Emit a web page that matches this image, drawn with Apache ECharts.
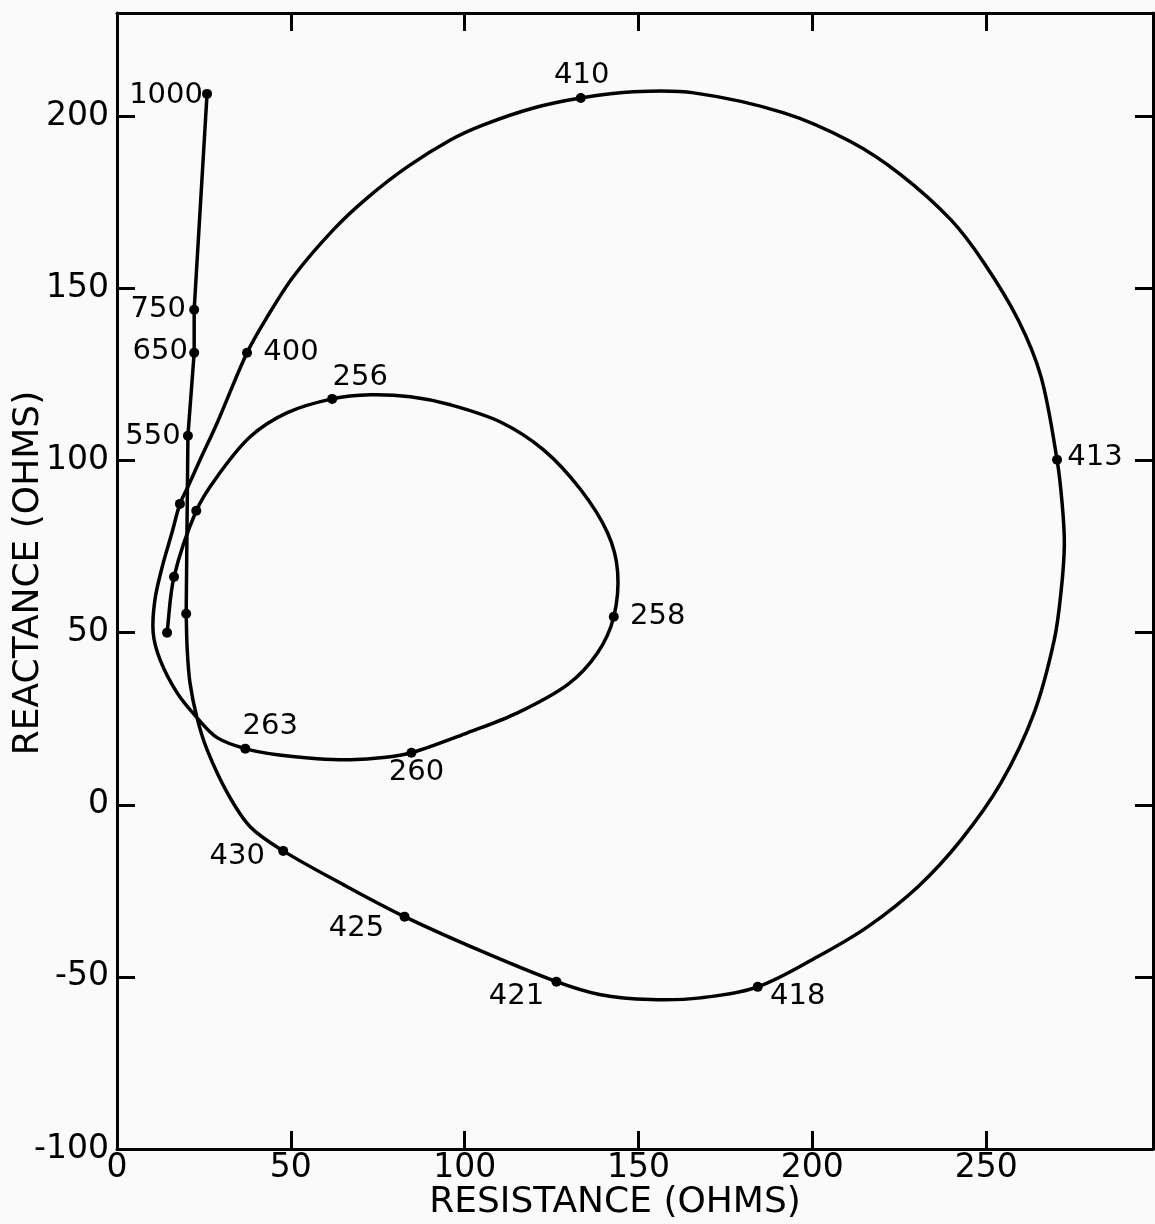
<!DOCTYPE html>
<html>
<head>
<meta charset="utf-8">
<script src="https://cdn.jsdelivr.net/npm/echarts@6/dist/echarts.min.js"></script>
<style>
html,body{margin:0;padding:0;background:#fafafa;}
#chart{width:1155px;height:1224px;}
</style>
</head>
<body>
<div id="chart"></div>
<script>
// Impedance locus (resistance, reactance in ohms), in frequency order
const curveX = [14.4, 16.4, 22.8, 28.8, 38.3, 49.0, 61.9, 72.9, 84.4, 95.9, 110.3, 122.7, 133.4, 141.1, 144.0, 142.9,
  138.2, 129.6, 115.2, 100.8, 84.7, 76.6, 67.1, 57.6, 46.1, 36.9, 28.8, 23.0, 17.3, 12.4, 10.4, 10.9, 13.0, 15.8, 18.1,
  20.4, 23.9, 28.8, 37.4, 43.2, 50.7, 62.2, 72.0, 83.5, 95.9, 105.4, 119.8, 133.4, 148.6, 165.9, 191.8, 211.1,
  225.5, 239.9, 249.4, 259.2, 265.8, 270.4, 271.9, 272.5, 271.6, 269.6, 263.8, 254.3, 242.8, 230.4, 216.0, 201.6, 184.3,
  167.9, 153.5, 139.1, 126.4, 104.5, 82.7, 65.1, 47.8, 38.3, 31.7, 25.9, 23.0, 21.0, 20.2, 19.9];
const curveY = [50.0, 66.2, 85.4, 95.3, 106.9, 113.9, 117.9, 119.1, 118.5, 116.2, 111.2, 103.1, 91.5, 79.0, 67.7, 54.6,
  44.1, 34.9, 26.7, 20.9, 15.1, 13.7, 13.1, 13.4, 14.5, 16.3, 19.5, 25.3, 32.5, 42.1, 50.0, 59.5, 69.1, 79.0, 87.4,
  92.4, 100.2, 110.9, 131.3, 141.7, 153.4, 167.0, 176.3, 185.3, 193.1, 197.5, 202.4, 205.3, 207.1, 206.8, 201.0, 192.6,
  183.0, 169.9, 157.4, 140.9, 124.3, 100.2, 87.1, 75.5, 62.4, 47.9, 26.7, 6.4, -10.2, -23.8, -35.4, -44.1, -52.9,
  -56.1, -56.6, -55.2, -51.4, -42.4, -32.5, -23.2, -13.4, -6.4, 3.5, 16.0, 25.3, 35.4, 45.0, 55.5];
// high-frequency straight segment
const riserX = [19.9, 20.4, 22.2, 22.2, 25.9];
const riserY = [55.5, 107.2, 131.3, 143.8, 206.5];
// measured points (frequency label, resistance, reactance)
const pointFreq = ['', '', '', '256', '258', '260', '263', '', '400', '410', '413', '418', '421', '425', '430', '', '550', '650', '750', '1000'];
const pointX = [14.4, 16.4, 22.8, 61.9, 142.9, 84.7, 36.9, 18.1, 37.4, 133.4, 270.4, 184.3, 126.4, 82.7, 47.8, 19.9, 20.4, 22.2, 22.2, 25.9];
const pointY = [50.0, 66.2, 85.4, 117.9, 54.6, 15.1, 16.3, 87.4, 131.3, 205.3, 100.2, -52.9, -51.4, -32.5, -13.4, 55.5, 107.2, 131.3, 143.8, 206.5];
const xTickLabels = [0, 50, 100, 150, 200, 250];
const yTickLabels = [-100, -50, 0, 50, 100, 150, 200];

// label placement (pixels, label centre relative to the point)
const labelOffset = {
  '256': [28, -21], '258': [44, 0], '260': [5, 20], '263': [25, -22], '400': [44, 0], '410': [1, -23],
  '413': [38, -2], '418': [40, 10], '421': [-40, 15], '425': [-48, 12], '430': [-46, 6],
  '550': [-35, 1], '650': [-34, -1], '750': [-36, 0], '1000': [-41, 2]
};

const FONT = 'DejaVu Sans';
const zip = (a, b) => a.map((v, i) => [v, b[i]]);

// smooth path through pixel points (tangent = direction prev->next, handle = 1/3 segment)
function smoothPath(p) {
  const unit = (a, b) => { const dx = b[0] - a[0], dy = b[1] - a[1]; const l = Math.hypot(dx, dy) || 1; return [dx / l, dy / l]; };
  let d = 'M' + p[0][0] + ',' + p[0][1];
  for (let i = 0; i < p.length - 1; i++) {
    const p0 = p[i - 1] || p[i], p1 = p[i], p2 = p[i + 1], p3 = p[i + 2] || p[i + 1];
    const len = Math.hypot(p2[0] - p1[0], p2[1] - p1[1]) / 3;
    const t1 = unit(p0, p2), t2 = unit(p1, p3);
    const c1 = [p1[0] + t1[0] * len, p1[1] + t1[1] * len];
    const c2 = [p2[0] - t2[0] * len, p2[1] - t2[1] * len];
    d += ' C' + c1[0] + ',' + c1[1] + ' ' + c2[0] + ',' + c2[1] + ' ' + p2[0] + ',' + p2[1];
  }
  return d;
}

const chart = echarts.init(document.getElementById('chart'), null, {renderer: 'canvas'});

const axisCommon = {
  type: 'value',
  axisLine: {show: true, onZero: false, lineStyle: {color: '#000', width: 3}},
  axisTick: {show: true, inside: true, length: 18, lineStyle: {color: '#000', width: 3}},
  splitLine: {show: false},
  interval: 50
};

chart.setOption({
  animation: false,
  backgroundColor: '#fafafa',
  grid: {left: 117, right: 2, top: 13, bottom: 75, containLabel: false, outerBoundsMode: 'none'},
  xAxis: [
    Object.assign({}, axisCommon, {
      position: 'bottom', min: 0, max: 298,
      name: 'RESISTANCE (OHMS)', nameLocation: 'middle', nameGap: 36, nameMoveOverlap: false,
      nameTextStyle: {fontFamily: FONT, fontSize: 36, color: '#000', padding: [0, 40, 0, 0]},
      axisLabel: {
        fontFamily: FONT, fontSize: 33, color: '#000', margin: 3, showMaxLabel: false,
        formatter: v => xTickLabels.indexOf(v) >= 0 ? String(v) : ''
      }
    }),
    Object.assign({}, axisCommon, {
      position: 'top', min: 0, max: 298, axisLabel: {show: false}
    })
  ],
  yAxis: [
    Object.assign({}, axisCommon, {
      position: 'left', min: -100, max: 230,
      name: 'REACTANCE (OHMS)', nameLocation: 'middle', nameGap: 70, nameMoveOverlap: false,
      nameTextStyle: {fontFamily: FONT, fontSize: 36, color: '#000', padding: [0, 0, 0, 16]},
      axisLabel: {
        fontFamily: FONT, fontSize: 33, color: '#000', margin: 8, showMaxLabel: false,
        formatter: v => yTickLabels.indexOf(v) >= 0 ? String(v) : ''
      }
    }),
    Object.assign({}, axisCommon, {
      position: 'right', min: -100, max: 230, axisLabel: {show: false}
    })
  ],
  series: [
    {
      type: 'custom', coordinateSystem: 'cartesian2d', xAxisIndex: 0, yAxisIndex: 0,
      data: zip(curveX, curveY), z: 2,
      renderItem: function (params, api) {
        if (params.dataIndex !== 0) return null;
        const pts = curveX.map((x, i) => api.coord([x, curveY[i]]));
        return {
          type: 'path',
          shape: {pathData: smoothPath(pts)},
          style: {stroke: '#000', lineWidth: 3.5, fill: null, lineJoin: 'round', lineCap: 'round'}
        };
      }
    },
    {
      type: 'line', xAxisIndex: 0, yAxisIndex: 0,
      data: zip(riserX, riserY), smooth: false, showSymbol: false,
      lineStyle: {color: '#000', width: 3.5}, z: 2
    },
    {
      type: 'scatter', xAxisIndex: 0, yAxisIndex: 0,
      symbol: 'circle', symbolSize: 10,
      itemStyle: {color: '#000', opacity: 1}, z: 3,
      data: pointX.map((x, i) => {
        const f = pointFreq[i];
        return {
          value: [x, pointY[i]],
          label: {
            show: f !== '', formatter: f, position: 'inside',
            offset: labelOffset[f] || [0, 0],
            fontFamily: FONT, fontSize: 29, color: '#000',
            textBorderWidth: 0, textBorderColor: 'transparent'
          }
        };
      })
    }
  ]
});
</script>
</body>
</html>
